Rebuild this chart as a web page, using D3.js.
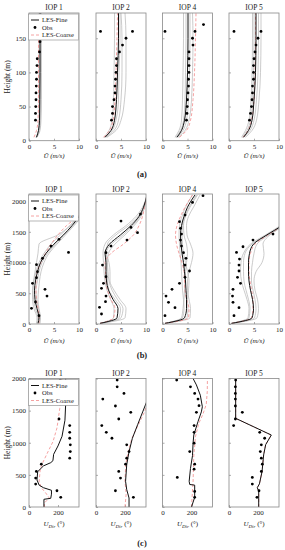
<!DOCTYPE html>
<html>
<head>
<meta charset="utf-8">
<script src="https://cdn.jsdelivr.net/npm/d3@7"></script>
<style>
  body { margin: 0; background: #fff; }
  text { font-family: "Liberation Serif", "DejaVu Serif", serif; fill: #222; }
</style>
</head>
<body>
<svg id="chart" width="285" height="550"></svg>
<script>
// ---- data ----
const iops = ["IOP 1", "IOP 2", "IOP 4", "IOP 5"];
const legendNames = ["LES-Fine", "Obs", "LES-Coarse"];

// row (a): mean wind speed, lowest 187 m
const hA = [5, 15, 30, 60, 100, 150, 187];
const fineA = [
  [1.5, 1.9, 2.1, 2.15, 2.2, 2.2, 2.2],
  [1.8, 3.0, 3.7, 4.1, 4.3, 4.5, 4.5],
  [2.9, 3.8, 4.4, 4.8, 5.0, 5.1, 5.1],
  [2.9, 3.9, 4.6, 5.0, 5.3, 5.4, 5.4]
];
const coarseA = [
  [1.0, 1.5, 1.8, 1.9, 1.9, 1.9, 1.9],
  [1.5, 2.7, 3.4, 3.8, 4.0, 4.2, 4.3],
  [3.4, 4.8, 5.6, 6.1, 6.4, 6.6, 6.7],
  [2.8, 3.8, 4.5, 5.0, 5.2, 5.3, 5.3]
];
const ensA = [
  [[1.6, 2.2, 2.4, 2.5, 2.5, 2.5, 2.5], [1.4, 1.9, 2.0, 2.0, 2.0, 2.0, 2.0], [1.5, 2.1, 2.3, 2.3, 2.3, 2.3, 2.3]],
  [[2.2, 4.0, 5.0, 5.7, 6.0, 6.0, 5.8], [2.0, 3.6, 4.5, 5.0, 5.2, 5.2, 5.0], [1.6, 2.6, 3.2, 3.5, 3.6, 3.7, 3.7], [1.8, 3.2, 4.0, 4.5, 4.6, 4.8, 4.8]],
  [[2.5, 3.3, 3.8, 4.0, 4.1, 4.2, 4.2], [2.7, 3.6, 4.2, 4.5, 4.6, 4.7, 4.7], [3.2, 4.5, 5.3, 5.8, 6.0, 6.1, 6.0], [3.0, 4.1, 4.8, 5.2, 5.4, 5.5, 5.5]],
  [[2.5, 3.3, 4.0, 4.4, 4.6, 4.7, 4.7], [3.3, 4.6, 5.5, 6.0, 6.3, 6.4, 6.4], [3.0, 4.2, 5.0, 5.5, 5.8, 5.9, 5.9], [2.7, 3.6, 4.3, 4.7, 4.9, 5.0, 5.0]]
];
const obsA = [
  [[30, 1.3], [40, 1.3], [50, 1.35], [60, 1.4], [70, 1.4], [80, 1.45], [90, 1.5], [100, 1.5], [110, 1.6], [120, 1.65], [130, 2.1], [145, 2.2]],
  [[30, 3.1], [40, 3.3], [50, 3.3], [60, 3.6], [70, 3.8], [80, 3.8], [90, 3.9], [100, 4.0], [110, 4.1], [120, 4.1], [130, 4.7], [140, 5.3], [150, 6.0], [160, 7.3], [160, 0.9]],
  [[30, 4.8], [40, 4.9], [50, 4.95], [60, 5.0], [70, 5.1], [80, 5.2], [90, 5.2], [100, 5.3], [110, 5.3], [120, 5.3], [130, 5.3], [140, 6.1], [150, 6.0], [160, 6.5], [160, 0.5], [170, 8.2]],
  [[30, 4.1], [40, 4.3], [50, 4.5], [60, 4.6], [70, 4.7], [80, 4.7], [90, 4.9], [100, 4.9], [110, 4.9], [120, 5.0], [130, 5.2], [140, 5.4], [150, 5.8], [160, 6.4], [160, 1.0]]
];

// row (b): mean wind speed up to ~2100 m
const hB = [10, 100, 250, 400, 550, 700, 850, 1000, 1150, 1300, 1450, 1600, 1750, 1900, 2100];
const fineB = [
  [1.8, 2.0, 1.6, 1.2, 1.1, 1.3, 1.7, 2.3, 3.4, 5.0, 6.9, 8.6, 10.0, 11, 12],
  [0.8, 4.2, 4.4, 3.4, 2.5, 2.1, 2.0, 2.0, 1.8, 2.7, 4.9, 7.0, 8.6, 9.5, 10.2],
  [0.5, 4.4, 4.8, 4.8, 4.7, 4.6, 4.4, 4.2, 3.9, 3.7, 3.6, 3.8, 4.3, 5.0, 6.5],
  [0.5, 4.6, 4.9, 4.7, 4.3, 4.0, 3.9, 3.9, 4.1, 4.9, 7.6, 10.5, 12, 13, 14]
];
const coarseB = [
  [2.0, 2.0, 1.8, 1.5, 1.4, 1.4, 1.6, 2.4, 3.3, 4.4, 5.8, 7.5, 9.7, 11, 12],
  [0.8, 3.5, 3.8, 3.0, 2.3, 2.0, 1.9, 1.8, 3.0, 5.5, 7.5, 8.6, 9.3, 9.7, 10.2],
  [0.5, 5.2, 5.3, 4.8, 4.5, 4.4, 4.3, 3.9, 3.3, 2.8, 2.6, 2.9, 3.6, 4.5, 6.0],
  [0.5, 4.5, 4.8, 4.8, 4.5, 4.2, 4.0, 4.0, 4.3, 5.2, 7.8, 10.6, 12, 13, 14]
];
const ensB = [
  [[1.5, 1.6, 1.0, 0.7, 0.7, 0.9, 1.2, 1.5, 1.8, 2.0, 5.8, 8.2, 10, 11, 12],
   [2.2, 2.3, 2.0, 1.8, 1.9, 2.1, 2.4, 3.0, 4.0, 5.6, 7.3, 9.0, 10.5, 11.5, 12],
   [1.6, 1.8, 1.3, 0.9, 0.8, 1.0, 1.4, 2.0, 3.0, 4.4, 6.3, 8.2, 9.8, 11, 12],
   [2.0, 2.2, 1.9, 1.5, 1.4, 1.7, 2.0, 2.6, 3.7, 5.3, 7.0, 8.8, 10.3, 11.5, 12]],
  [[1.0, 5.0, 5.4, 4.3, 3.2, 2.6, 2.4, 2.3, 2.5, 3.8, 5.8, 7.6, 9.0, 9.7, 10.2],
   [0.8, 3.5, 3.6, 2.9, 2.2, 1.8, 1.6, 1.5, 1.4, 1.8, 3.5, 6.0, 8.0, 9.3, 10.2],
   [0.9, 5.8, 6.0, 4.8, 3.6, 2.8, 2.8, 2.6, 2.1, 2.3, 4.0, 6.5, 8.4, 9.5, 10.2],
   [0.8, 4.6, 4.9, 3.8, 2.6, 2.3, 2.2, 2.2, 2.0, 3.1, 5.4, 7.3, 8.8, 9.6, 10.2]],
  [[0.5, 3.8, 4.1, 4.3, 4.4, 4.5, 4.6, 4.8, 5.0, 4.8, 4.3, 4.2, 4.6, 5.5, 7.0],
   [0.5, 5.5, 5.6, 5.3, 5.0, 5.0, 5.3, 5.8, 6.1, 5.6, 4.9, 4.8, 5.2, 6.2, 7.5],
   [0.5, 4.0, 4.3, 4.2, 4.0, 3.9, 3.8, 3.7, 3.5, 3.4, 3.3, 3.4, 3.9, 4.6, 6.0],
   [0.5, 4.9, 5.1, 5.0, 5.2, 5.3, 5.0, 4.6, 4.2, 4.0, 3.9, 4.0, 4.5, 5.3, 6.8]],
  [[0.5, 5.6, 5.9, 5.7, 5.2, 5.0, 5.4, 6.6, 7.0, 6.8, 8.2, 10.8, 12, 13, 14],
   [0.5, 4.0, 4.2, 3.9, 3.4, 3.0, 2.9, 2.9, 3.2, 4.6, 7.5, 10.4, 12, 13, 14],
   [0.5, 5.1, 5.4, 5.2, 4.8, 4.5, 4.5, 4.7, 5.0, 5.6, 8.0, 10.8, 12, 13, 14],
   [0.5, 3.8, 4.0, 3.6, 3.0, 2.5, 2.3, 2.4, 2.9, 4.3, 7.3, 10.2, 12, 13, 14]]
];
const obsB = [
  [[135, 2.0], [255, 0.5], [358, 1.3], [455, 3.6], [564, 3.2], [661, 0.7], [753, 1.5], [851, 1.7], [965, 1.5], [1068, 2.7], [1165, 7.9], [1268, 4.4], [1377, 6.0]],
  [[163, 1.1], [271, 0.7], [363, 1.9], [455, 2.0], [580, 1.1], [661, 1.5], [770, 2.0], [959, 1.3], [1160, 2.0], [1268, 3.0], [1366, 6.2], [1485, 8.3], [1572, 7.0], [1675, 5.0], [1789, 8.9]],
  [[135, 0.5], [265, 2.5], [352, 1.2], [455, 0.7], [564, 1.9], [661, 3.4], [759, 4.5], [862, 5.4], [959, 4.5], [1068, 4.7], [1160, 4.2], [1268, 3.8], [1366, 3.6], [1463, 3.8], [1556, 3.6], [1664, 3.4], [1772, 4.5], [1978, 6.0], [2087, 8.1]],
  [[135, 1.0], [265, 2.0], [352, 0.8], [455, 0.7], [564, 0.8], [661, 2.3], [759, 1.7], [862, 2.0], [959, 2.0], [1057, 2.1], [1165, 1.5], [1257, 2.8], [1366, 4.8], [1463, 8.8]]
];

// row (c): wind direction, [height, degrees]
const fineC = [
  [[0, 103], [120, 103], [135, 150], [200, 155], [260, 155], [300, 100], [340, 70], [420, 55], [550, 60], [640, 100], [690, 150], [720, 165], [820, 170], [950, 200], [1100, 228], [1350, 248], [1600, 253], [2000, 253]],
  [[0, 228], [140, 228], [270, 212], [400, 204], [660, 212], [860, 228], [1070, 251], [1280, 287], [1480, 322], [1640, 350], [2000, 400]],
  [[0, 200], [150, 222], [340, 222], [350, 188], [400, 184], [600, 193], [800, 207], [1000, 211], [1120, 216], [1330, 245], [1480, 268], [1560, 275], [1740, 261], [1900, 234], [2000, 211]],
  [[0, 205], [250, 205], [300, 195], [360, 210], [550, 228], [810, 239], [970, 253], [1120, 292], [1380, 46], [2000, 46]]
];
const coarseC = [
  [[0, 108], [60, 105], [140, 140], [220, 115], [300, 85], [400, 70], [600, 78], [700, 97], [860, 131], [1020, 166], [1230, 193], [1530, 212], [1850, 223], [2000, 230]],
  [[0, 200], [200, 208], [400, 200], [660, 205], [860, 222], [1070, 248], [1280, 292], [1480, 335], [1600, 352], [2000, 400]],
  [[0, 200], [400, 211], [800, 216], [1100, 228], [1300, 250], [1450, 280], [1600, 302], [1800, 309], [2000, 310]],
  [[0, 205], [250, 205], [300, 196], [360, 210], [550, 228], [810, 239], [970, 253], [1120, 291], [1380, 46], [2000, 46]]
];
const obsC = [
  [[150, 219], [253, 193], [357, 46], [450, 46], [553, 51], [667, 85], [760, 281], [863, 285], [967, 285], [1070, 281], [1163, 281], [1267, 281], [1370, 207], [1975, 216]],
  [[150, 258], [253, 134], [450, 169], [553, 157], [667, 204], [760, 212], [863, 228], [967, 212], [1070, 110], [1163, 71], [1267, 40], [1370, 157], [1473, 240], [1572, 134], [1680, 47], [1768, 193], [1871, 146], [1975, 146]],
  [[150, 222], [243, 222], [460, 102], [589, 218], [667, 222], [863, 188], [993, 218], [1163, 218], [1267, 218], [1473, 234], [1577, 252], [1680, 245], [1768, 222], [1871, 193], [1975, 98]],
  [[150, 193], [253, 207], [357, 161], [460, 161], [553, 223], [667, 230], [760, 223], [863, 216], [967, 223], [1070, 246], [1163, 212], [1267, 32], [1370, 44], [1473, 92], [1572, 44], [1680, 44], [1768, 44], [1871, 44], [1975, 46]]
];

// ---- layout ----
const svg = d3.select("#chart");
const panelLeft = [29, 96, 162.5, 229];
const panelW = 50;

const pairs = (hs, vs) => hs.map((h, i) => [h, vs[i]]);

const rows = [
  { top: 13, bottom: 140.7, yDom: [0, 187], yTicks: [0, 50, 100, 150], xDom: [0, 10], xTicks: [0, 5, 10],
    titleY: 10, xlabY: 158, tag: "(a)", tagY: 177, kind: "U",
    fine: fineA.map(v => pairs(hA, v)), coarse: coarseA.map(v => pairs(hA, v)),
    ens: ensA.map(g => g.map(v => pairs(hA, v))), obs: obsA, curve: d3.curveMonotoneY },
  { top: 194, bottom: 324, yDom: [0, 2115], yTicks: [0, 500, 1000, 1500, 2000], xDom: [0, 10], xTicks: [0, 5, 10],
    titleY: 192, xlabY: 343, tag: "(b)", tagY: 358, kind: "U",
    fine: fineB.map(v => pairs(hB, v)), coarse: coarseB.map(v => pairs(hB, v)),
    ens: ensB.map(g => g.map(v => pairs(hB, v))), obs: obsB, curve: d3.curveMonotoneY },
  { top: 378.5, bottom: 507, yDom: [0, 2000], yTicks: [0, 500, 1000, 1500, 2000], xDom: [0, 345], xTicks: [0, 200],
    titleY: 376, xlabY: 526, tag: "(c)", tagY: 546, kind: "Dir",
    fine: fineC, coarse: coarseC, ens: [[], [], [], []], obs: obsC, curve: d3.curveLinear }
];

rows.forEach(function(row, ri) {
  iops.forEach(function(name, pi) {
    const left = panelLeft[pi];
    const x = d3.scaleLinear().domain(row.xDom).range([left, left + panelW]);
    const y = d3.scaleLinear().domain(row.yDom).range([row.bottom, row.top]);
    const g = svg.append("g");

    const clipId = "clip" + ri + "_" + pi;
    g.append("clipPath").attr("id", clipId)
      .append("rect").attr("x", left).attr("y", row.top)
      .attr("width", panelW).attr("height", row.bottom - row.top);

    // axes with inward ticks
    const xAxis = d3.axisBottom(x).tickValues(row.xTicks).tickFormat(d3.format("d"))
      .tickSizeInner(-2).tickSizeOuter(0).tickPadding(3);
    const yAxis = d3.axisLeft(y).tickValues(row.yTicks).tickFormat(d3.format("d"))
      .tickSizeInner(-2).tickSizeOuter(0).tickPadding(3);
    if (pi > 0) yAxis.tickFormat("");

    const gx = g.append("g").attr("transform", "translate(0," + row.bottom + ")").call(xAxis);
    const gy = g.append("g").attr("transform", "translate(" + left + ",0)").call(yAxis);
    [gx, gy].forEach(a => {
      a.select(".domain").remove();
      a.selectAll("line").attr("stroke", "#777").attr("stroke-width", 0.6);
      a.selectAll("text").style("font-family", "Liberation Serif, serif").style("font-size", "7px").attr("fill", "#333");
    });

    const line = d3.line().x(d => x(d[1])).y(d => y(d[0])).curve(row.curve);
    const plot = g.append("g").attr("clip-path", "url(#" + clipId + ")");

    plot.selectAll("path.ens").data(row.ens[pi]).enter().append("path")
      .attr("class", "ens").attr("d", line)
      .attr("fill", "none").attr("stroke", "#b4b4b4").attr("stroke-width", 0.7);

    plot.append("path").datum(row.coarse[pi]).attr("d", line)
      .attr("fill", "none").attr("stroke", "#f28a8a").attr("stroke-width", 0.8)
      .attr("stroke-dasharray", "3,2");

    plot.append("path").datum(row.fine[pi]).attr("d", line)
      .attr("fill", "none").attr("stroke", "#111").attr("stroke-width", 1);

    plot.selectAll("circle").data(row.obs[pi]).enter().append("circle")
      .attr("cx", d => x(d[1])).attr("cy", d => y(d[0])).attr("r", 1.4).attr("fill", "#000");

    // frame
    g.append("rect").attr("x", left).attr("y", row.top)
      .attr("width", panelW).attr("height", row.bottom - row.top)
      .attr("fill", "none").attr("stroke", "#888").attr("stroke-width", 0.8);

    g.append("text").attr("x", left + panelW / 2).attr("y", row.titleY)
      .attr("text-anchor", "middle").style("font-size", "7.5px").text(name);

    // x label
    const xl = g.append("text").attr("x", left + panelW / 2).attr("y", row.xlabY)
      .attr("text-anchor", "middle").style("font-size", "7px").style("font-style", "italic");
    if (row.kind === "U") {
      xl.append("tspan").text("U\u0304");
      xl.append("tspan").text(" (m/s)");
    } else {
      xl.append("tspan").text("U");
      xl.append("tspan").attr("dy", 1.5).style("font-size", "5px").text("Dir");
      xl.append("tspan").attr("dy", -1.5).style("font-style", "normal").text(" (\u00B0)");
    }

    // legend in first panel
    if (pi === 0) {
      const lg = g.append("g");
      lg.append("rect").attr("x", left - 0.5).attr("y", row.top + 1)
        .attr("width", panelW).attr("height", 26)
        .attr("fill", "#fff").attr("stroke", "#888").attr("stroke-width", 0.6);
      legendNames.forEach(function(n, i) {
        const ly = row.top + 7 + i * 7.5;
        if (i === 0) {
          lg.append("line").attr("x1", left + 2).attr("x2", left + 10).attr("y1", ly).attr("y2", ly)
            .attr("stroke", "#111").attr("stroke-width", 1);
        } else if (i === 1) {
          lg.append("circle").attr("cx", left + 6).attr("cy", ly).attr("r", 1.4).attr("fill", "#000");
        } else {
          lg.append("line").attr("x1", left + 2).attr("x2", left + 10).attr("y1", ly).attr("y2", ly)
            .attr("stroke", "#f28a8a").attr("stroke-width", 0.8).attr("stroke-dasharray", "3,2");
        }
        lg.append("text").attr("x", left + 13).attr("y", ly + 2.3)
          .style("font-size", "6.5px").text(n);
      });
    }
  });

  svg.append("text")
    .attr("transform", "translate(10," + ((row.top + row.bottom) / 2) + ") rotate(-90)")
    .attr("text-anchor", "middle").style("font-size", "7.5px").text("Height (m)");

  svg.append("text").attr("x", 142).attr("y", row.tagY)
    .attr("text-anchor", "middle").style("font-size", "8.5px").style("font-weight", "bold").text(row.tag);
});
</script>
</body>
</html>
